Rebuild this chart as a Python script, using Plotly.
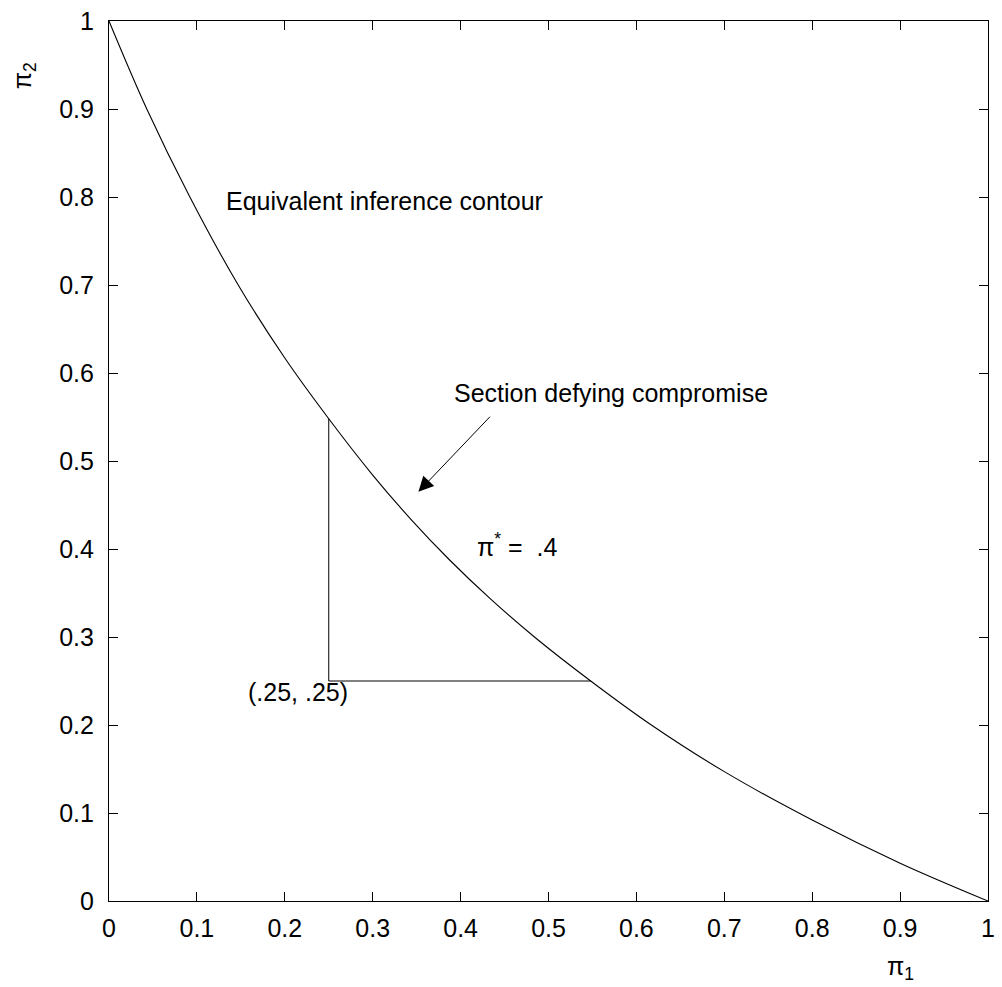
import plotly.graph_objects as go

# Equivalent inference contour (pi_1, pi_2)
contour_pi1 = [0.0, 0.043, 0.092, 0.147, 0.2, 0.25, 0.3, 0.3427, 0.3875, 0.4346, 0.484, 0.548, 0.617, 0.7, 0.8, 0.9, 1.0]
contour_pi2 = [1.0, 0.9, 0.8, 0.7, 0.617, 0.548, 0.484, 0.4346, 0.3875, 0.3427, 0.3, 0.25, 0.2, 0.147, 0.092, 0.043, 0.0]

# Compromise point and the section of the contour it cannot reach
point = (0.25, 0.25)
section_top = 0.548     # contour height above pi_1 = .25
section_right = 0.548   # contour position at pi_2 = .25

tick_vals = [0, 0.1, 0.2, 0.3, 0.4, 0.5, 0.6, 0.7, 0.8, 0.9, 1]
tick_text = ["0", "0.1", "0.2", "0.3", "0.4", "0.5", "0.6", "0.7", "0.8", "0.9", "1"]

FONT = "Liberation Sans, Arial, Helvetica, sans-serif"

fig = go.Figure()

fig.add_trace(go.Scatter(
    x=contour_pi1, y=contour_pi2, mode="lines",
    line=dict(color="black", width=1.1, shape="spline", smoothing=1.0),
    hoverinfo="skip", showlegend=False,
))

# Bracket from the compromise point up to / across to the contour
fig.add_trace(go.Scatter(
    x=[point[0], point[0], section_right],
    y=[section_top, point[1], point[1]],
    mode="lines", line=dict(color="black", width=1),
    hoverinfo="skip", showlegend=False,
))

axis_common = dict(
    range=[0, 1], tickvals=tick_vals, ticktext=tick_text,
    ticks="inside", ticklen=9, tickwidth=1, tickcolor="black",
    showline=True, linecolor="black", linewidth=1.2, mirror="ticks",
    showgrid=False, zeroline=False,
    tickfont=dict(family=FONT, size=25, color="black"),
)

fig.update_layout(
    width=1002, height=987,
    margin=dict(l=109, r=7, t=15, b=86),
    paper_bgcolor="white", plot_bgcolor="white",
    xaxis=dict(**axis_common, ticklabelstandoff=5),
    yaxis=dict(**axis_common, ticklabelstandoff=9),
    font=dict(family=FONT, size=25, color="black"),
)

annotations = [
    dict(x=0.131, y=0.796, xref="x", yref="y", text="Equivalent inference contour",
         showarrow=False, xanchor="left", yanchor="middle"),
    dict(x=0.3905, y=0.577, xref="x", yref="y", text="Section defying compromise",
         showarrow=False, xanchor="left", yanchor="middle"),
    dict(x=0.4165, y=0.405, xref="x", yref="y", text="π<sup>*</sup> =  .4",
         showarrow=False, xanchor="left", yanchor="middle"),
    dict(x=0.1558, y=0.238, xref="x", yref="y", text="(.25, .25)",
         showarrow=False, xanchor="left", yanchor="middle"),
    # arrow pointing at the contour section
    dict(x=0.352, y=0.465, xref="x", yref="y", ax=0.435, ay=0.552, axref="x", ayref="y",
         text="", showarrow=True, arrowhead=2, arrowsize=3, arrowwidth=1, arrowcolor="black",
         standoff=0),
    # axis labels
    dict(x=0.9, y=-0.076, xref="paper", yref="paper", text="π<sub>1</sub>",
         showarrow=False, xanchor="center", yanchor="middle"),
    dict(x=-0.097, y=0.938, xref="paper", yref="paper", text="π<sub>2</sub>",
         showarrow=False, xanchor="center", yanchor="middle", textangle=-90),
]
fig.update_layout(annotations=annotations)

fig.write_html("out.html")
